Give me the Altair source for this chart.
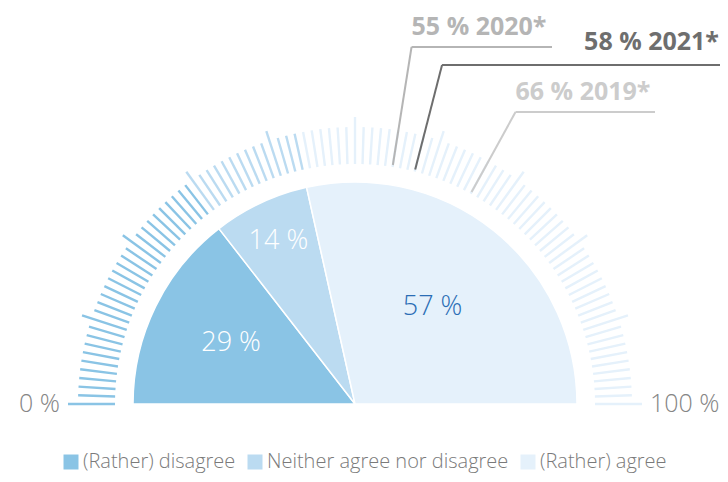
import math
import altair as alt
import pandas as pd

# ---------------- data ----------------
categories = ["(Rather) disagree", "Neither agree nor disagree", "(Rather) agree"]
shares = [29, 14, 57]
share_labels = ["29 %", "14 %", "57 %"]
colors = ["#8ac4e5", "#bbdbf1", "#e5f1fb"]
label_colors = ["#ffffff", "#ffffff", "#2a6db5"]

prior_values = [55, 58, 66]
prior_years = ["2020*", "2021*", "2019*"]
prior_colors = ["#b5b5b5", "#6e6e6e", "#cccccc"]

tick_pcts = list(range(0, 101))
end_values = [0, 100]
end_labels = ["0 %", "100 %"]

# ---------------- layout (pixels) ----------------
W, H = 700, 460
CX, CY = 347, 396          # gauge centre inside the plot area
R_PIE = 222
R_TICK_IN, R_TICK_OUT, R_TICK_LONG = 240, 277, 287
R_LEAD_IN = 242
lead_levels = [357, 339, 292]
lead_ends = [197, 380, 300]
lead_label_dy = [12, 15, 12]
lead_label_x = [None, 364, None]
lead_align = ["left", "right", "left"]
pie_label_r = [138, 180, 124]
R_END_LABEL = 295

xs = alt.Scale(domain=[-CX, W - CX], range=[0, W], nice=False, zero=False)
ys = alt.Scale(domain=[CY - H, CY], range=[H, 0], nice=False, zero=False)
color_scale = alt.Scale(domain=categories, range=colors)
legend = alt.Legend(
    title=None, orient="none", direction="horizontal", legendX=53, legendY=444,
    symbolType="square", symbolSize=225, symbolStrokeWidth=0,
    labelFont="Open Sans", labelFontSize=20, labelFontWeight=300, labelColor="#7a7a7a",
    labelOffset=2, columnPadding=9, labelLimit=400,
)

PI = math.pi

pie_df = pd.DataFrame({"cat": categories, "share": shares, "order": [0, 1, 2],
                       "cx": 0, "cy": 0})
pie = alt.Chart(pie_df).mark_arc(outerRadius=R_PIE, stroke="white", strokeWidth=1.5).encode(
    x=alt.X("cx:Q", scale=xs, axis=None),
    y=alt.Y("cy:Q", scale=ys, axis=None),
    theta=alt.Theta("share:Q", stack=True,
                    scale=alt.Scale(domain=[0, 100], range=[-PI / 2, PI / 2])),
    order=alt.Order("order:Q"),
    color=alt.Color("cat:N", scale=color_scale, legend=legend, sort=categories),
)

def cat_of(p):
    if p <= shares[0]:
        return categories[0]
    if p <= shares[0] + shares[1]:
        return categories[1]
    return categories[2]

tick_df = pd.DataFrame({"pct": tick_pcts, "cat": [cat_of(p) for p in tick_pcts]})
ticks = alt.Chart(tick_df).transform_calculate(
    a="PI*(1-datum.pct/100)",
    r2=f"datum.pct % 10 == 0 ? {R_TICK_LONG} : {R_TICK_OUT}",
).transform_calculate(
    x=f"{R_TICK_IN}*cos(datum.a)", y=f"{R_TICK_IN}*sin(datum.a)",
    x2="datum.r2*cos(datum.a)", y2="datum.r2*sin(datum.a)",
).mark_rule(strokeWidth=2.4).encode(
    x=alt.X("x:Q", scale=xs, axis=None), y=alt.Y("y:Q", scale=ys, axis=None),
    x2="x2:Q", y2="y2:Q",
    color=alt.Color("cat:N", scale=color_scale, legend=legend, sort=categories),
)

cum = 0
mids = []
for s in shares:
    mids.append(cum + s / 2)
    cum += s
pl_df = pd.DataFrame({"label": share_labels, "mid": mids, "r": pie_label_r, "col": label_colors})
pie_labels = alt.Chart(pl_df).transform_calculate(
    a="PI*(1-datum.mid/100)"
).transform_calculate(
    x="datum.r*cos(datum.a)", y="datum.r*sin(datum.a)"
).mark_text(font="Open Sans", fontSize=27, fontWeight=300, baseline="middle", align="center").encode(
    x=alt.X("x:Q", scale=xs, axis=None), y=alt.Y("y:Q", scale=ys, axis=None),
    text="label:N", color=alt.Color("col:N", scale=None),
)

lead_df = pd.DataFrame({
    "v": prior_values, "year": prior_years, "col": prior_colors,
    "level": lead_levels, "xe": lead_ends, "dy": lead_label_dy, "al": lead_align,
    "lx": [x if x is not None else 0 for x in lead_label_x],
})
lead_base = alt.Chart(lead_df).transform_calculate(
    a="PI*(1-datum.v/100)"
).transform_calculate(
    xb=f"{R_LEAD_IN}*cos(datum.a)", yb=f"{R_LEAD_IN}*sin(datum.a)",
    xt="datum.level*cos(datum.a)/sin(datum.a)", yt="datum.level",
    ylab="datum.level + datum.dy",
    txt="datum.v + ' % ' + datum.year",
)
lead_radial = lead_base.mark_rule(strokeWidth=2).encode(
    x=alt.X("xb:Q", scale=xs, axis=None), y=alt.Y("yb:Q", scale=ys, axis=None),
    x2="xt:Q", y2="yt:Q", color=alt.Color("col:N", scale=None),
)
lead_horiz = lead_base.mark_rule(strokeWidth=2).encode(
    x=alt.X("xt:Q", scale=xs, axis=None), y=alt.Y("yt:Q", scale=ys, axis=None),
    x2="xe:Q", color=alt.Color("col:N", scale=None),
)
lead_text_left = lead_base.transform_filter("datum.al == 'left'").mark_text(
    font="Open Sans", fontSize=25, fontWeight="bold", align="left", baseline="alphabetic"
).encode(
    x=alt.X("xt:Q", scale=xs, axis=None), y=alt.Y("ylab:Q", scale=ys, axis=None),
    text="txt:N", color=alt.Color("col:N", scale=None),
)
lead_text_right = lead_base.transform_filter("datum.al == 'right'").mark_text(
    font="Open Sans", fontSize=25, fontWeight="bold", align="right", baseline="alphabetic"
).encode(
    x=alt.X("lx:Q", scale=xs, axis=None), y=alt.Y("ylab:Q", scale=ys, axis=None),
    text="txt:N", color=alt.Color("col:N", scale=None),
)

end_df = pd.DataFrame({"v": end_values, "label": end_labels})
end_base = alt.Chart(end_df).transform_calculate(
    a="PI*(1-datum.v/100)"
).transform_calculate(
    x=f"{R_END_LABEL}*cos(datum.a)", y=f"{R_END_LABEL}*sin(datum.a)"
)
end_left = end_base.transform_filter("datum.v == 0").mark_text(
    font="Open Sans", fontSize=25, fontWeight=300, align="right", baseline="middle", color="#858585"
).encode(x=alt.X("x:Q", scale=xs, axis=None), y=alt.Y("y:Q", scale=ys, axis=None), text="label:N")
end_right = end_base.transform_filter("datum.v == 100").mark_text(
    font="Open Sans", fontSize=25, fontWeight=300, align="left", baseline="middle", color="#858585"
).encode(x=alt.X("x:Q", scale=xs, axis=None), y=alt.Y("y:Q", scale=ys, axis=None), text="label:N")

chart = alt.layer(
    ticks, pie, pie_labels, lead_radial, lead_horiz, lead_text_left, lead_text_right,
    end_left, end_right,
).properties(
    width=W, height=H,
    autosize=alt.AutoSizeParams(type="none"),
    padding={"left": 0, "top": 0, "right": 12, "bottom": 6},
).configure_view(strokeWidth=0, stroke="transparent").configure_axis(
    domain=False, grid=False, ticks=False, labels=False
)

chart.save("out.html", embed_options={"renderer": "svg", "actions": False})
